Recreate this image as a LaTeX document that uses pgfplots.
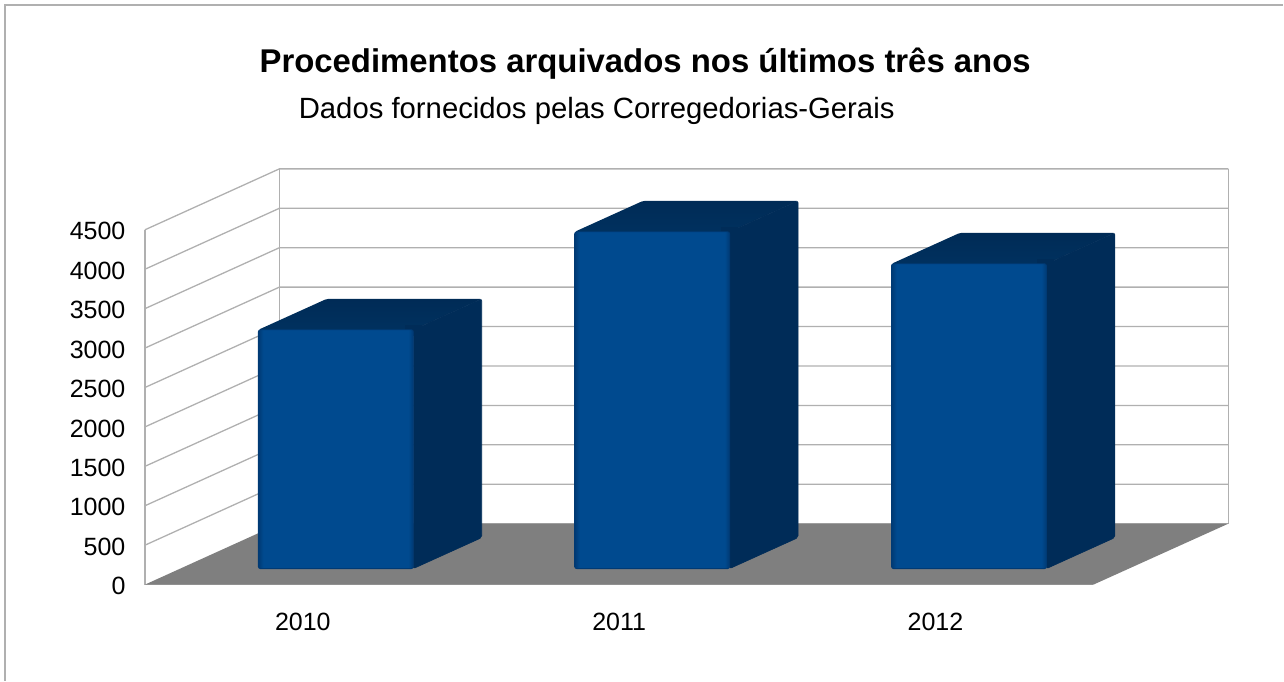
\documentclass[border=0pt]{standalone}
\usepackage{fontspec}
\setmainfont{Liberation Sans}
\usepackage{pgfplots}
\pgfplotsset{compat=1.18}
\definecolor{gridc}{HTML}{B0B0B0}
\definecolor{floorc}{HTML}{7F7F7F}
\definecolor{frontc}{HTML}{004A8F}
\definecolor{frontd}{HTML}{003A74}
\definecolor{sidec}{HTML}{002C58}
\definecolor{topc}{HTML}{00315F}
\definecolor{topd}{HTML}{002B56}
\pgfdeclarehorizontalshading{frontbar}{100bp}{color(0bp)=(frontd);color(25bp)=(frontd);color(26.6bp)=(frontc);color(73.4bp)=(frontc);color(75bp)=(frontd);color(100bp)=(frontd)}
\pgfplotsset{
 base/.style={
  scale only axis, width=949pt, height=355pt,
  xmin=145, xmax=1094, ymin=0, ymax=4500, clip=false,
  enlargelimits=false},
 grid3d/.style={gridc, line width=1.3pt, forget plot},
 side/.style={fill=sidec, draw=sidec, line width=0.6pt, rounded corners=2pt, forget plot},
 topf/.style={top color=topd, bottom color=topc, draw=none, rounded corners=2pt, forget plot},
 junction/.style={fill=sidec, draw=none, forget plot},
 frontaxis/.style={base, hide axis, ybar stacked, bar width=155pt},
 front/.style={shade, shading=frontbar, draw=frontd, line width=0.8pt, rounded corners=2pt}
}
\begin{document}
\begin{tikzpicture}
\begin{axis}[base,
  axis lines=left,
  axis line style={-, gridc, line width=1.3pt},
  major tick length=0pt,
  ytick={0,500,1000,1500,2000,2500,3000,3500,4000,4500},
  xtick={303,619.5,936},
  xticklabels={2010,2011,2012},
  tick label style={font=\fontsize{25}{25}\selectfont},
  yticklabel style={/pgf/number format/1000 sep={},/pgf/number format/assume math mode=true,xshift=-16pt,yshift=-1.5pt},
  xticklabel style={yshift=-25pt},
  title={\fontsize{32.9}{33}\selectfont\bfseries Procedimentos arquivados nos últimos três anos},
  title style={at={(axis description cs:0.5274,1.451)},anchor=center,inner sep=0pt}
]
% page extent
\addplot[draw=none,forget plot] coordinates {(0,-1217)(1284,7415)};
% outer frame
\addplot[gridc,line width=1.4pt,forget plot] coordinates {(5,-1217)(5,7352)(1284,7352)};
% back wall verticals
\addplot[grid3d] coordinates {(279.5,773)(279.5,5273)};
\addplot[grid3d] coordinates {(1229,773)(1229,5273)};
% back wall grid lines and side wall grid lines
\addplot[grid3d] coordinates {(145,500)(279.5,1273)(1229,1273)};
\addplot[grid3d] coordinates {(145,1000)(279.5,1773)(1229,1773)};
\addplot[grid3d] coordinates {(145,1500)(279.5,2273)(1229,2273)};
\addplot[grid3d] coordinates {(145,2000)(279.5,2773)(1229,2773)};
\addplot[grid3d] coordinates {(145,2500)(279.5,3273)(1229,3273)};
\addplot[grid3d] coordinates {(145,3000)(279.5,3773)(1229,3773)};
\addplot[grid3d] coordinates {(145,3500)(279.5,4273)(1229,4273)};
\addplot[grid3d] coordinates {(145,4000)(279.5,4773)(1229,4773)};
\addplot[grid3d] coordinates {(145,4500)(279.5,5273)(1229,5273)};
\addplot[grid3d] coordinates {(279.5,773)(1229,773)};
% floor
\addplot[fill=floorc,draw=none,forget plot] coordinates {(145,0)(279.5,773)(1229,773)(1094,0)} --cycle;
% bar tops and sides
\addplot[topf] coordinates {(258.5,3232)(327,3625)(482,3625)(413.5,3232)} --cycle;
\addplot[side] coordinates {(413.5,203)(482,596)(482,3625)(413.5,3232)} --cycle;
\addplot[junction] coordinates {(405,3150)(422,3150)(422,3290)(405,3290)} --cycle;
\addplot[topf] coordinates {(575,4475)(643.5,4868)(798.5,4868)(730,4475)} --cycle;
\addplot[side] coordinates {(730,203)(798.5,596)(798.5,4868)(730,4475)} --cycle;
\addplot[junction] coordinates {(721,4393)(738,4393)(738,4533)(721,4533)} --cycle;
\addplot[topf] coordinates {(892,4069)(960.5,4462)(1115.5,4462)(1047,4069)} --cycle;
\addplot[side] coordinates {(1047,203)(1115.5,596)(1115.5,4462)(1047,4069)} --cycle;
\addplot[junction] coordinates {(1038,3987)(1055,3987)(1055,4127)(1038,4127)} --cycle;
\node[font=\fontsize{29.3}{30}\selectfont,anchor=center] at (axis cs:597,6007) {Dados fornecidos pelas Corregedorias-Gerais};
\end{axis}
% front faces of the bars: value stacked on the floor gap
\begin{axis}[frontaxis]
\addplot[draw=none,fill=none] coordinates {(336,203)};
\addplot[front] coordinates {(336,3029)};
\end{axis}
\begin{axis}[frontaxis]
\addplot[draw=none,fill=none] coordinates {(652.5,203)};
\addplot[front] coordinates {(652.5,4272)};
\end{axis}
\begin{axis}[frontaxis]
\addplot[draw=none,fill=none] coordinates {(969.5,203)};
\addplot[front] coordinates {(969.5,3866)};
\end{axis}
\end{tikzpicture}
\end{document}
